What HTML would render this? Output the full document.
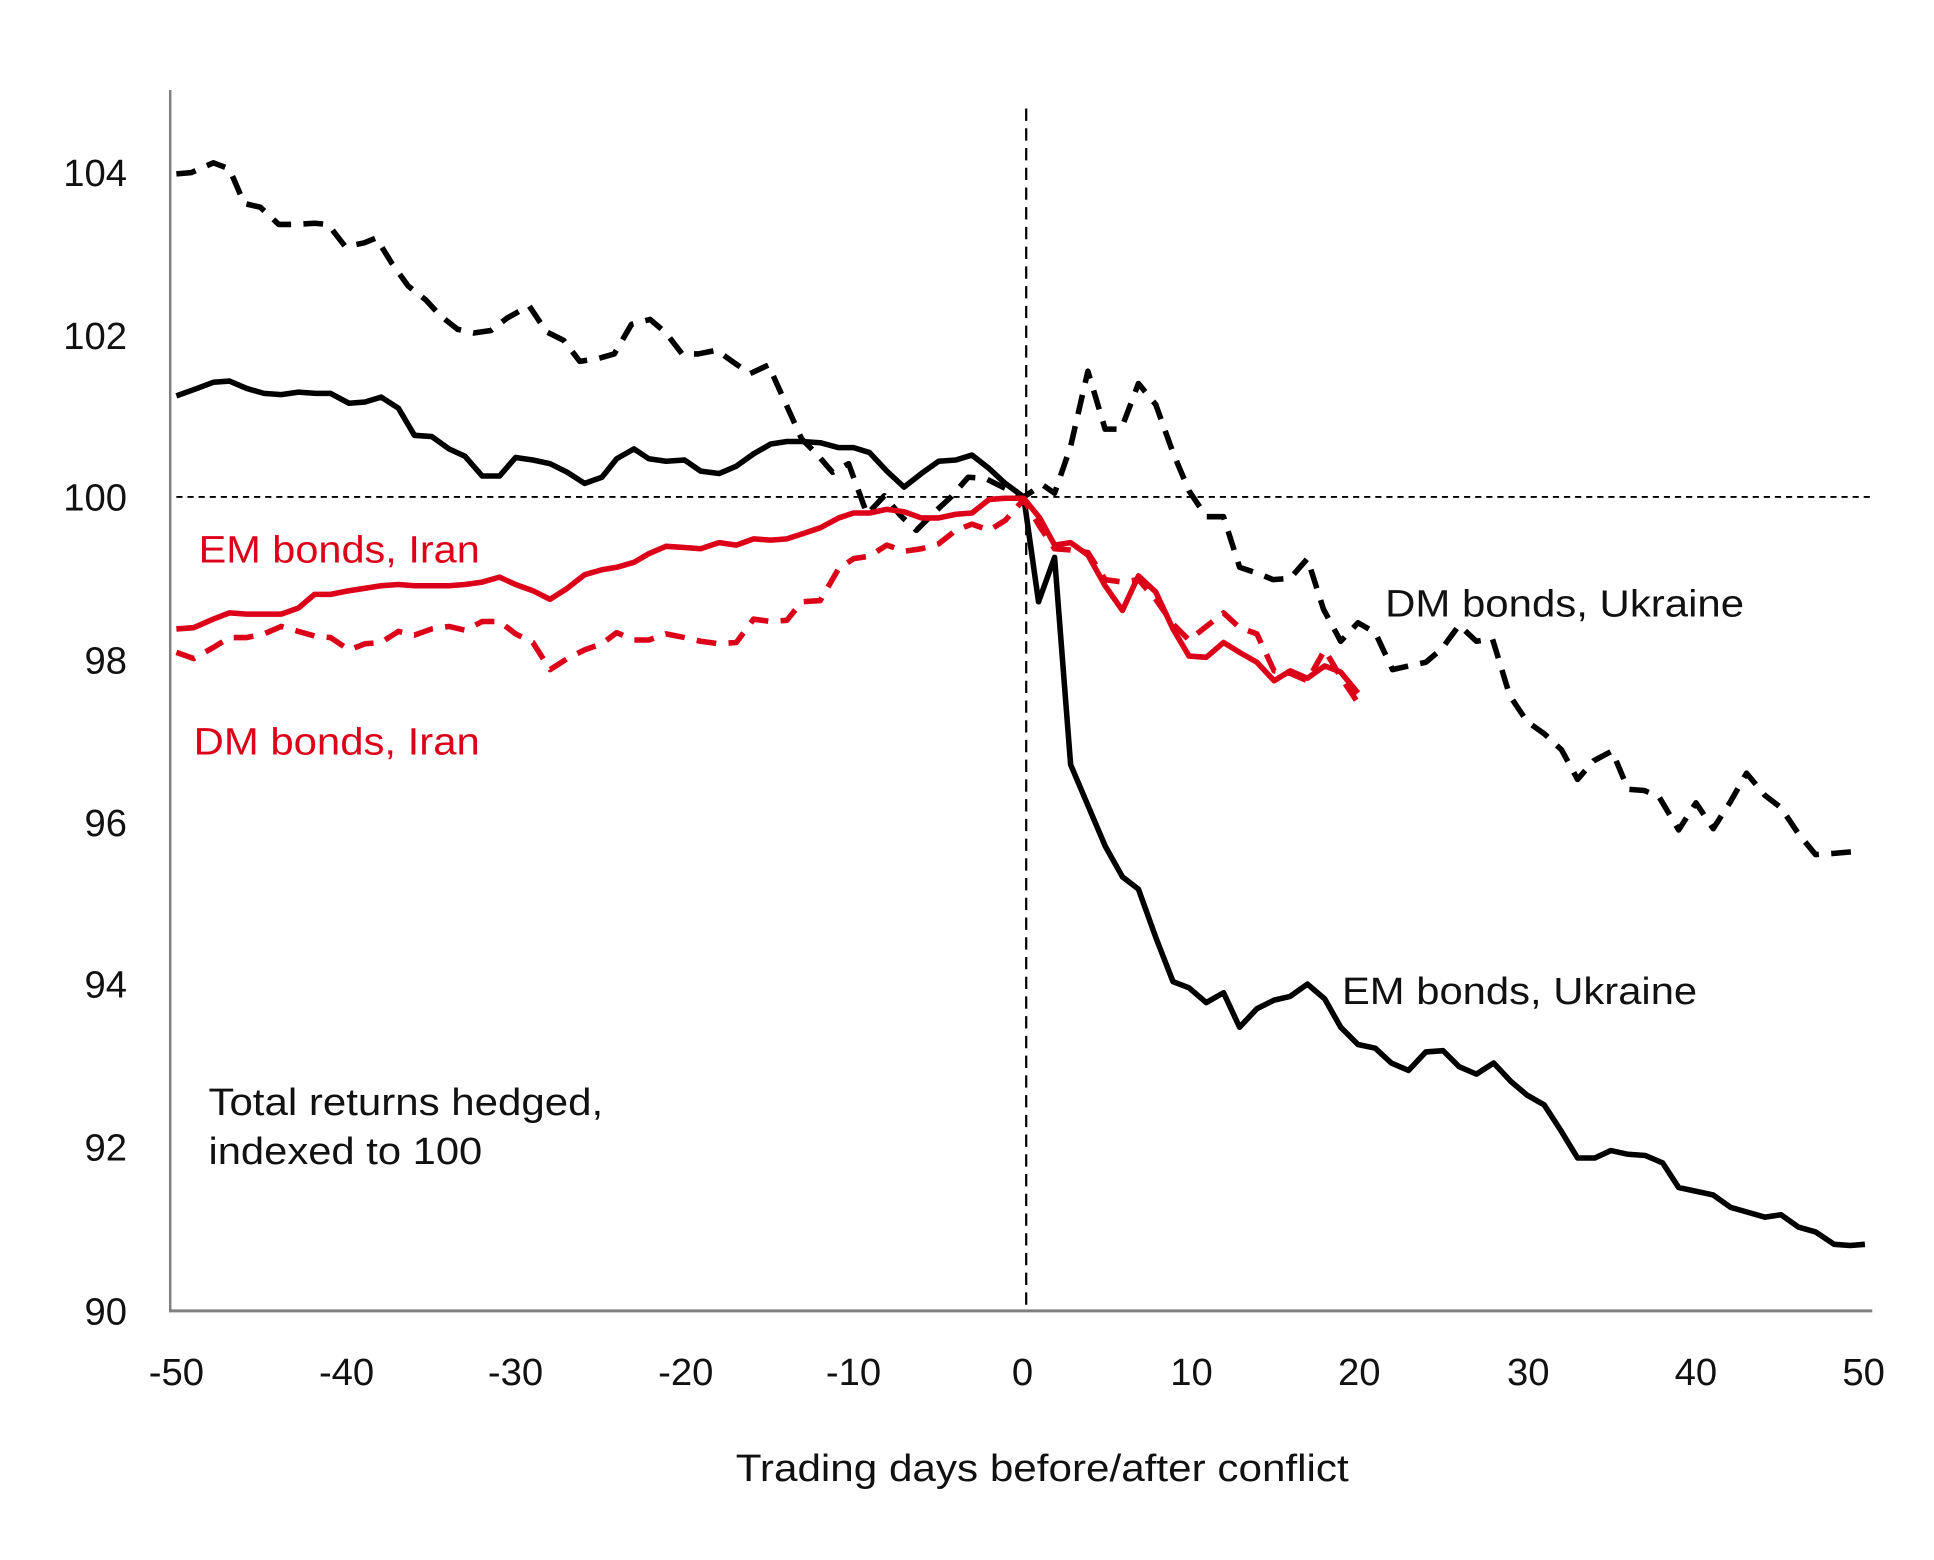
<!DOCTYPE html>
<html><head><meta charset="utf-8"><style>
html,body{margin:0;padding:0;background:#fff;}
svg{display:block;}
text{font-family:"Liberation Sans",sans-serif;}
</style></head><body>
<svg width="1934" height="1560" viewBox="0 0 1568 1265" preserveAspectRatio="none" xmlns="http://www.w3.org/2000/svg">
<rect width="1568" height="1265" fill="#fff"/>
<line x1="138" y1="73" x2="138" y2="1064" stroke="#808080" stroke-width="2"/>
<line x1="137" y1="1063" x2="1518" y2="1063" stroke="#808080" stroke-width="2.5"/>
<line x1="143" y1="403" x2="1517" y2="403" stroke="#000" stroke-width="1.5" stroke-dasharray="5,4"/>
<line x1="832" y1="88" x2="832" y2="1062" stroke="#000" stroke-width="1.8" stroke-dasharray="10,6"/>
<g font-size="31" fill="#111" text-anchor="end">
<text x="103" y="151">104</text>
<text x="103" y="283">102</text>
<text x="103" y="414">100</text>
<text x="103" y="546">98</text>
<text x="103" y="678">96</text>
<text x="103" y="809">94</text>
<text x="103" y="941">92</text>
<text x="103" y="1074">90</text>
</g>
<g font-size="31" fill="#111" text-anchor="middle">
<text x="143" y="1123">-50</text>
<text x="281" y="1123">-40</text>
<text x="418" y="1123">-30</text>
<text x="556" y="1123">-20</text>
<text x="692" y="1123">-10</text>
<text x="829" y="1123">0</text>
<text x="966" y="1123">10</text>
<text x="1102" y="1123">20</text>
<text x="1239" y="1123">30</text>
<text x="1375" y="1123">40</text>
<text x="1511" y="1123">50</text>
<text x="845" y="1201" textLength="497" lengthAdjust="spacingAndGlyphs">Trading days before/after conflict</text>
</g>
<g fill="none" stroke-width="4.5" stroke-linejoin="round">
<polyline stroke="#000" stroke-dasharray="16,10" points="143,141 155,140 173,132 186,137 198,165 211,168 226,182 240,182 255,181 266,182 280,200 295,197 305,193 318,214 331,232 345,243 357,256 371,267 384,270 398,268 411,258 429,248 443,269 457,276 470,293 484,291 498,287 512,263 527,259 540,270 553,287 566,287 581,284 595,294 608,303 623,296 636,325 650,356 662,368 675,383 688,376 703,417 717,402 730,418 743,430 757,416 771,403 785,387 799,388 813,395 830,403 845,393 855,400 868,362 882,301 896,348 909,348 923,311 937,328 951,367 964,398 978,419 992,419 1005,460 1020,465 1032,470 1046,469 1060,453 1073,494 1087,520 1101,505 1115,513 1129,543 1142,540 1156,537 1169,526 1183,507 1197,520 1210,518 1224,564 1238,585 1252,595 1266,608 1279,632 1292,617 1307,609 1320,640 1333,641 1345,646 1361,673 1375,651 1389,672 1403,650 1416,627 1431,645 1444,655 1458,676 1472,693 1487,692 1510,690"/>
<polyline stroke="#000" points="143,321 157,316 173,310 186,309 200,315 214,319 228,320 242,318 256,319 268,319 283,327 296,326 309,322 323,331 336,353 350,354 364,364 377,370 391,386 405,386 418,371 432,373 446,376 460,383 474,392 488,387 500,372 514,364 526,372 540,374 555,373 568,382 583,384 597,378 611,368 625,360 638,358 650,358 665,359 680,363 692,363 705,367 719,382 733,395 747,384 761,374 775,373 788,369 802,380 815,392 830,403 842,488 855,452 868,620 882,653 896,686 910,711 923,721 937,760 951,796 964,801 978,813 992,805 1005,833 1019,818 1033,811 1046,808 1060,798 1074,810 1087,833 1101,847 1115,850 1128,862 1142,868 1156,853 1170,852 1183,865 1197,871 1211,862 1225,877 1238,888 1252,896 1265,916 1279,939 1293,939 1306,933 1320,936 1334,937 1348,943 1361,963 1375,966 1389,969 1403,979 1417,983 1431,987 1444,985 1458,995 1472,999 1487,1009 1500,1010 1512,1009"/>
<polyline stroke="#dc0018" points="143,510 157,509 173,502 186,497 200,498 214,498 228,498 242,493 255,482 268,482 283,479 296,477 309,475 323,474 336,475 350,475 364,475 377,474 391,472 405,468 418,474 432,479 446,486 460,477 474,466 488,462 500,460 514,456 526,449 540,443 555,444 568,445 583,440 597,442 611,437 625,438 638,437 650,433 665,428 680,420 692,416 705,416 719,413 733,415 747,420 761,420 775,417 788,416 802,405 815,404 830,404 843,420 855,442 868,440 882,450 896,475 910,495 923,467 937,480 951,510 964,532 978,533 992,521 1005,529 1019,537 1033,552 1046,544 1060,550 1074,540 1087,545 1101,562"/>
<polyline stroke="#dc0018" stroke-dasharray="16,10" points="143,529 157,534 173,525 186,517 200,517 214,514 228,508 242,512 256,516 268,517 283,527 296,522 309,521 323,512 336,515 350,510 364,508 377,511 391,504 405,504 418,514 432,521 446,543 460,534 474,527 488,522 500,513 514,519 526,519 540,514 555,517 568,520 583,522 597,521 611,502 625,504 638,503 650,488 665,487 680,461 692,453 705,451 719,442 733,447 747,445 761,441 775,430 788,425 802,430 815,422 830,405 843,427 855,445 868,446 882,448 896,470 910,472 923,470 937,486 951,506 964,519 978,508 992,497 1005,509 1019,514 1033,544 1046,546 1060,552 1074,527 1087,549 1101,570"/>
</g>
<g font-size="31">
<text x="161" y="456" fill="#dc0018" textLength="228" lengthAdjust="spacingAndGlyphs">EM bonds, Iran</text>
<text x="157" y="612" fill="#dc0018" textLength="232" lengthAdjust="spacingAndGlyphs">DM bonds, Iran</text>
<text x="1123" y="500" fill="#111" textLength="291" lengthAdjust="spacingAndGlyphs">DM bonds, Ukraine</text>
<text x="1088" y="814" fill="#111" textLength="288" lengthAdjust="spacingAndGlyphs">EM bonds, Ukraine</text>
<text x="169" y="904" fill="#111" textLength="320" lengthAdjust="spacingAndGlyphs">Total returns hedged,</text>
<text x="169" y="944" fill="#111" textLength="222" lengthAdjust="spacingAndGlyphs">indexed to 100</text>
</g>
</svg>
</body></html>
